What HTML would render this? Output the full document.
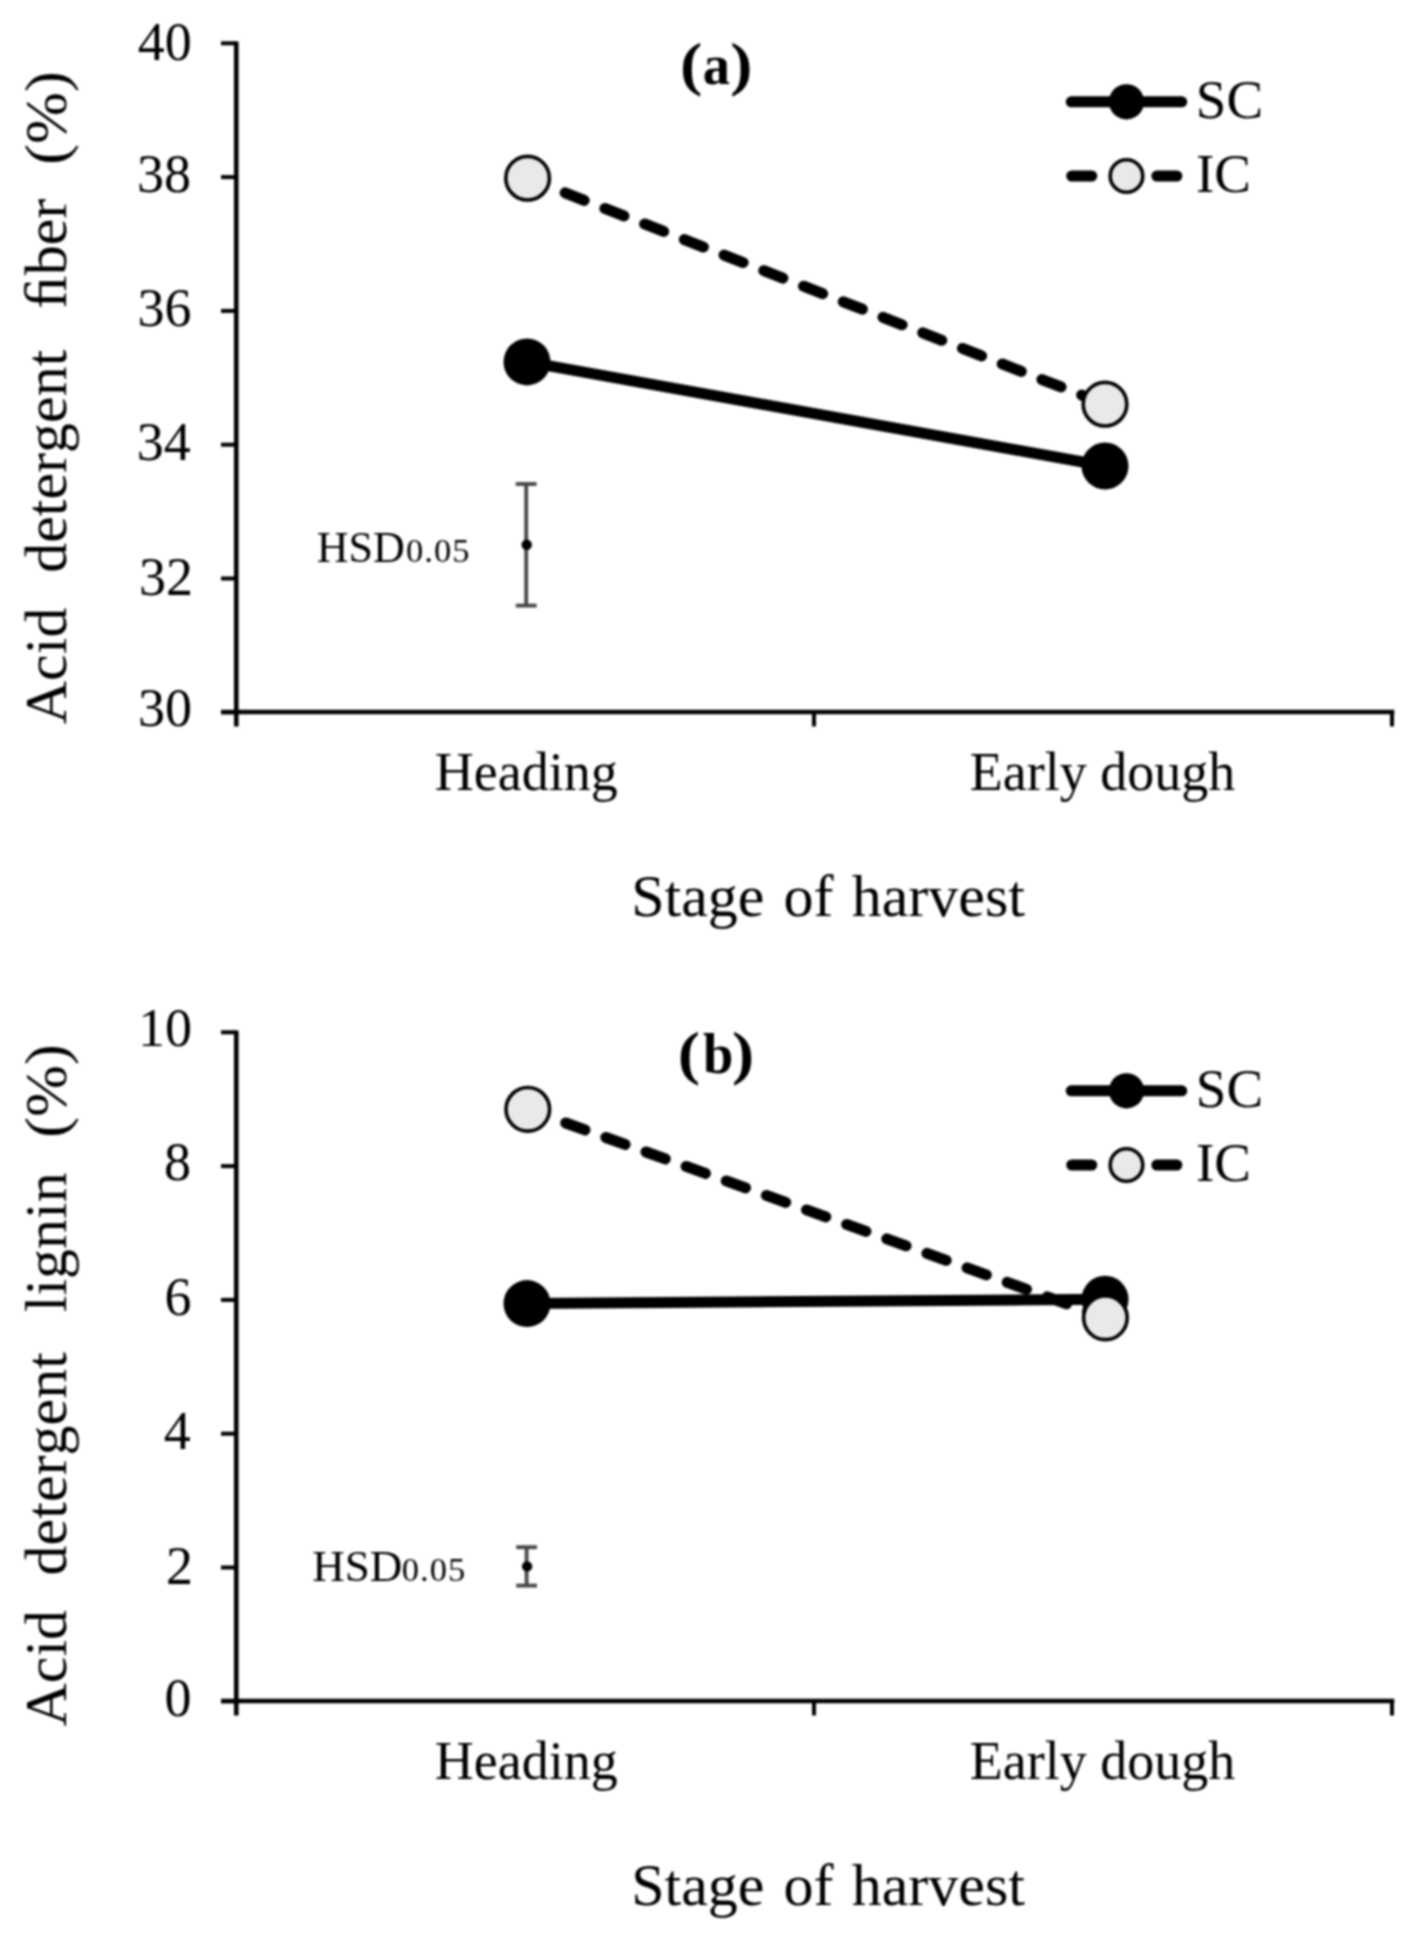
<!DOCTYPE html>
<html><head><meta charset="utf-8"><style>
html,body{margin:0;padding:0;background:#fff;}
svg{display:block;filter:grayscale(1) blur(0.8px);}
text{font-family:"Liberation Serif", serif;fill:#000;font-kerning:none;}
</style></head><body>
<svg width="1419" height="1940" viewBox="0 0 1419 1940">
<rect width="1419" height="1940" fill="#fff"/>
<line x1="236.3" y1="41.5" x2="236.3" y2="726.5" stroke="#000" stroke-width="4.6"/>
<line x1="221" y1="712" x2="1394.3" y2="712" stroke="#000" stroke-width="4.6"/>
<line x1="221" y1="43.30" x2="236.3" y2="43.30" stroke="#000" stroke-width="4"/>
<text x="137.66" y="59.50" font-size="54">40</text>
<line x1="221" y1="177.10" x2="236.3" y2="177.10" stroke="#000" stroke-width="4"/>
<text x="137.06" y="192.00" font-size="54">38</text>
<line x1="221" y1="310.90" x2="236.3" y2="310.90" stroke="#000" stroke-width="4"/>
<text x="137.61" y="326.00" font-size="54">36</text>
<line x1="221" y1="444.70" x2="236.3" y2="444.70" stroke="#000" stroke-width="4"/>
<text x="136.84" y="460.20" font-size="54">34</text>
<line x1="221" y1="578.50" x2="236.3" y2="578.50" stroke="#000" stroke-width="4"/>
<text x="138.98" y="594.50" font-size="54">32</text>
<line x1="221" y1="712.30" x2="236.3" y2="712.30" stroke="#000" stroke-width="4"/>
<text x="138.06" y="726.40" font-size="54">30</text>
<line x1="814" y1="712" x2="814" y2="726.5" stroke="#000" stroke-width="4"/>
<line x1="1392" y1="712" x2="1392" y2="726.5" stroke="#000" stroke-width="4"/>
<text x="434.87" y="790.00" font-size="54">Heading</text>
<text x="969.76" y="789.80" font-size="54">Early dough</text>
<text x="631.19" y="915.50" font-size="60">Stage</text>
<text x="783.41" y="915.50" font-size="60">of</text>
<text x="851.71" y="915.50" font-size="60">harvest</text>
<text transform="translate(65.50,724.24) rotate(-90)" font-size="60">Acid</text>
<text transform="translate(65.50,572.86) rotate(-90)" font-size="60">detergent</text>
<text transform="translate(65.50,308.70) rotate(-90)" font-size="60">ﬁber</text>
<text transform="translate(65.50,164.87) rotate(-90) scale(1.04,1)" font-size="60">(%)</text>
<line x1="527.0" y1="361.9" x2="1105" y2="466" stroke="#000" stroke-width="11"/>
<circle cx="527.0" cy="361.9" r="23.5" fill="#000"/>
<circle cx="1105" cy="466" r="23.5" fill="#000"/>
<path d="M565.13 192.89L584.22 200.36M604.86 208.44L623.95 215.91M644.60 223.99L663.69 231.47M684.33 239.55L703.42 247.02M724.07 255.10L743.16 262.57M763.80 270.65L782.89 278.12M803.54 286.20L822.63 293.68M843.27 301.76L862.36 309.23M883.01 317.31L902.10 324.78M922.74 332.86L941.83 340.33M962.47 348.41L981.56 355.89M1002.21 363.97L1021.30 371.44M1041.94 379.52L1061.03 386.99M1081.68 395.07L1100.77 402.54" stroke="#000" stroke-width="11" stroke-linecap="round" fill="none"/>
<circle cx="527.6" cy="178.2" r="21.8" fill="#e9e9e9" stroke="#000" stroke-width="3.6"/>
<circle cx="1105" cy="404.2" r="21.8" fill="#e9e9e9" stroke="#000" stroke-width="3.6"/>
<line x1="1071.25" y1="101.8" x2="1181.75" y2="101.8" stroke="#000" stroke-width="11" stroke-linecap="round"/>
<circle cx="1126.5" cy="101.8" r="17.6" fill="#000"/>
<text x="1195.82" y="117.80" font-size="55">SC</text>
<path d="M1071.75 176.0H1091.75M1156.85 176.0H1176.85" stroke="#000" stroke-width="11" stroke-linecap="round" fill="none"/>
<circle cx="1126.5" cy="176.0" r="16.3" fill="#e9e9e9" stroke="#000" stroke-width="3.6"/>
<text x="1196.01" y="192.20" font-size="55">IC</text>
<text transform="translate(680.07,83.60) scale(1.15,1.03)" font-size="58" font-weight="bold">(</text>
<text transform="translate(702.74,83.60) scale(0.94,1.0)" font-size="58" font-weight="bold">a</text>
<text transform="translate(730.32,83.60) scale(1.15,1.03)" font-size="58" font-weight="bold">)</text>
<line x1="526.2" y1="483.99999999999994" x2="526.2" y2="605.5999999999999" stroke="#454545" stroke-width="3.8"/>
<line x1="515.8000000000001" y1="483.99999999999994" x2="536.6" y2="483.99999999999994" stroke="#454545" stroke-width="3.8"/>
<line x1="515.8000000000001" y1="605.5999999999999" x2="536.6" y2="605.5999999999999" stroke="#454545" stroke-width="3.8"/>
<circle cx="526.7" cy="544.8" r="5.2" fill="#000"/>
<text x="316.73" y="562.20" font-size="44">HSD</text>
<text x="405.89" y="562.20" font-size="34.5" letter-spacing="1.1">0.05</text>
<line x1="236.3" y1="1030.5" x2="236.3" y2="1715.5" stroke="#000" stroke-width="4.6"/>
<line x1="221" y1="1701" x2="1394.3" y2="1701" stroke="#000" stroke-width="4.6"/>
<line x1="221" y1="1032.30" x2="236.3" y2="1032.30" stroke="#000" stroke-width="4"/>
<text x="138.06" y="1046.40" font-size="54">10</text>
<line x1="221" y1="1166.10" x2="236.3" y2="1166.10" stroke="#000" stroke-width="4"/>
<text x="164.06" y="1180.40" font-size="54">8</text>
<line x1="221" y1="1299.90" x2="236.3" y2="1299.90" stroke="#000" stroke-width="4"/>
<text x="164.61" y="1315.00" font-size="54">6</text>
<line x1="221" y1="1433.70" x2="236.3" y2="1433.70" stroke="#000" stroke-width="4"/>
<text x="163.84" y="1449.00" font-size="54">4</text>
<line x1="221" y1="1567.50" x2="236.3" y2="1567.50" stroke="#000" stroke-width="4"/>
<text x="165.98" y="1583.50" font-size="54">2</text>
<line x1="221" y1="1701.30" x2="236.3" y2="1701.30" stroke="#000" stroke-width="4"/>
<text x="164.46" y="1715.60" font-size="54">0</text>
<line x1="814" y1="1701" x2="814" y2="1715.5" stroke="#000" stroke-width="4"/>
<line x1="1392" y1="1701" x2="1392" y2="1715.5" stroke="#000" stroke-width="4"/>
<text x="434.87" y="1779.00" font-size="54">Heading</text>
<text x="969.76" y="1778.80" font-size="54">Early dough</text>
<text x="631.19" y="1904.50" font-size="60">Stage</text>
<text x="783.41" y="1904.50" font-size="60">of</text>
<text x="851.71" y="1904.50" font-size="60">harvest</text>
<text transform="translate(65.50,1726.54) rotate(-90)" font-size="60">Acid</text>
<text transform="translate(65.50,1575.41) rotate(-90)" font-size="60">detergent</text>
<text transform="translate(65.50,1312.25) rotate(-90)" font-size="60">lignin</text>
<text transform="translate(65.50,1137.67) rotate(-90) scale(1.04,1)" font-size="60">(%)</text>
<line x1="527.0" y1="1303.6" x2="1105" y2="1299.3" stroke="#000" stroke-width="11"/>
<circle cx="527.0" cy="1303.6" r="23.5" fill="#000"/>
<circle cx="1105" cy="1299.3" r="23.5" fill="#000"/>
<path d="M565.71 1122.98L584.99 1129.94M605.84 1137.47L625.12 1144.43M645.98 1151.96L665.26 1158.92M686.11 1166.45L705.39 1173.41M726.25 1180.93L745.53 1187.89M766.38 1195.42L785.66 1202.38M806.52 1209.91L825.80 1216.87M846.65 1224.40L865.93 1231.36M886.79 1238.89L906.07 1245.85M926.92 1253.37L946.20 1260.33M967.06 1267.86L986.34 1274.82M1007.19 1282.35L1026.47 1289.31M1047.33 1296.84L1066.61 1303.80M1087.46 1311.33L1105.40 1317.80" stroke="#000" stroke-width="11" stroke-linecap="round" fill="none"/>
<circle cx="527.8" cy="1109.3" r="21.8" fill="#e9e9e9" stroke="#000" stroke-width="3.6"/>
<circle cx="1105.4" cy="1317.8" r="21.8" fill="#e9e9e9" stroke="#000" stroke-width="3.6"/>
<line x1="1071.25" y1="1090.8" x2="1181.75" y2="1090.8" stroke="#000" stroke-width="11" stroke-linecap="round"/>
<circle cx="1126.5" cy="1090.8" r="17.6" fill="#000"/>
<text x="1195.82" y="1106.80" font-size="55">SC</text>
<path d="M1071.75 1165.0H1091.75M1156.85 1165.0H1176.85" stroke="#000" stroke-width="11" stroke-linecap="round" fill="none"/>
<circle cx="1126.5" cy="1165.0" r="16.3" fill="#e9e9e9" stroke="#000" stroke-width="3.6"/>
<text x="1196.01" y="1181.20" font-size="55">IC</text>
<text transform="translate(677.67,1072.60) scale(1.15,1.03)" font-size="58" font-weight="bold">(</text>
<text transform="translate(703.11,1072.60) scale(0.94,1.0)" font-size="58" font-weight="bold">b</text>
<text transform="translate(732.12,1072.60) scale(1.15,1.03)" font-size="58" font-weight="bold">)</text>
<line x1="526.6" y1="1547.2" x2="526.6" y2="1585.6000000000001" stroke="#454545" stroke-width="3.8"/>
<line x1="516.2" y1="1547.2" x2="537.0" y2="1547.2" stroke="#454545" stroke-width="3.8"/>
<line x1="516.2" y1="1585.6000000000001" x2="537.0" y2="1585.6000000000001" stroke="#454545" stroke-width="3.8"/>
<circle cx="527.1" cy="1566.4" r="5.2" fill="#000"/>
<text x="312.30" y="1581.00" font-size="45">HSD</text>
<text x="401.69" y="1581.00" font-size="34.5" letter-spacing="1.1">0.05</text>
</svg>
</body></html>
